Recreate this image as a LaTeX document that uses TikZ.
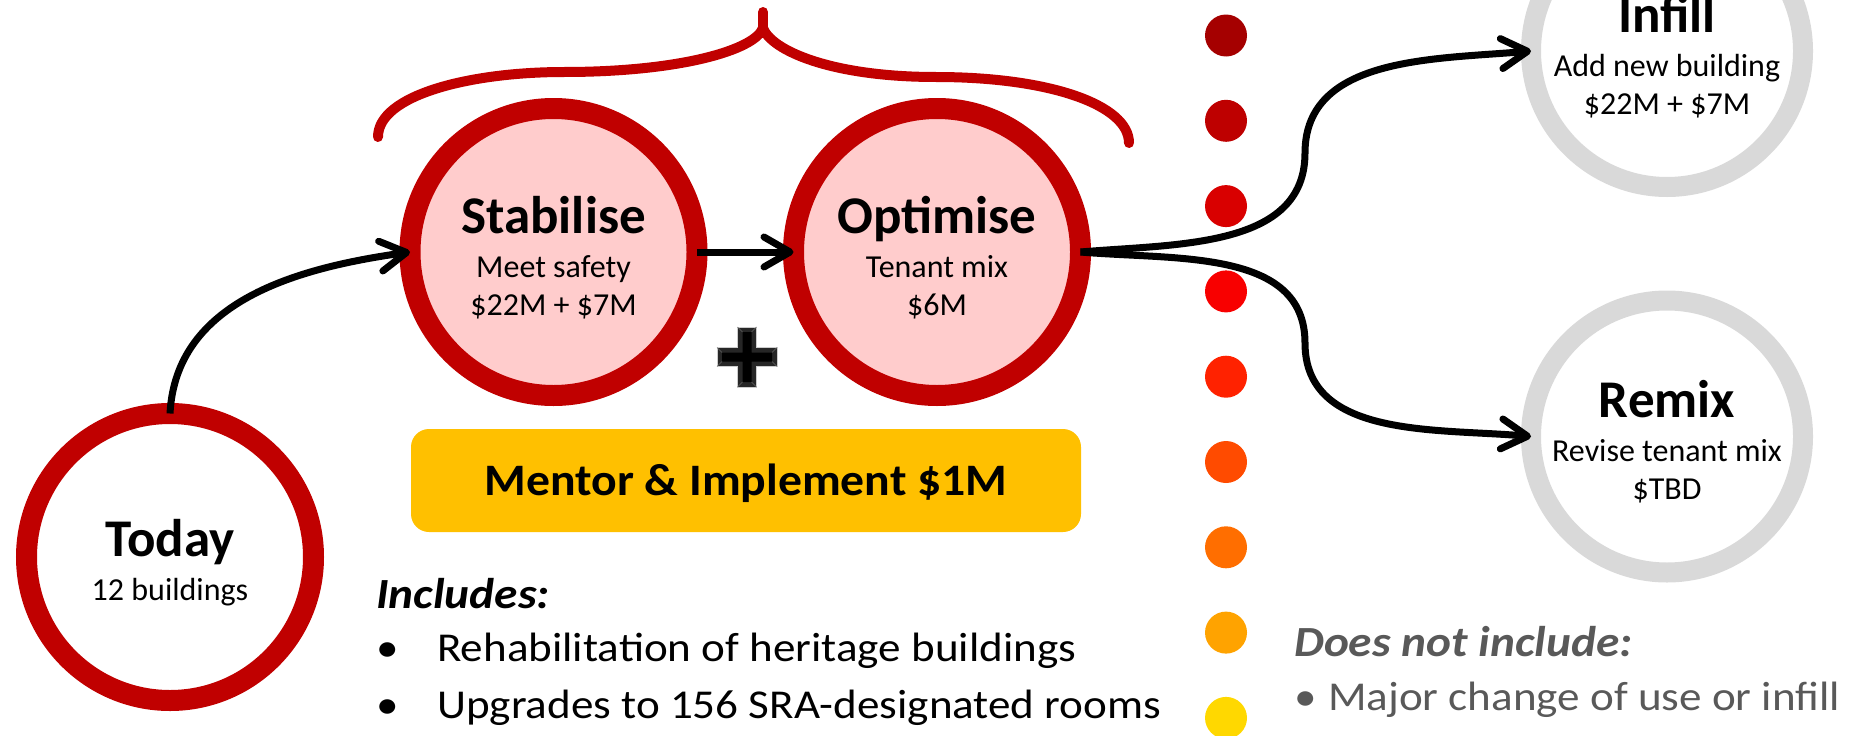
\documentclass[tikz,border=0pt]{standalone}
\usepackage{fontspec}
\setmainfont{Carlito}
\newfontfamily\listfont{Carlito}[FakeStretch=1.1]
\newfontfamily\mentorfont{Carlito}[FakeStretch=1.06]
\usepackage{tikz}
\usetikzlibrary{arrows.meta, positioning}
\definecolor{ringred}{HTML}{C00000}
\definecolor{stagepink}{HTML}{FFCCCC}
\definecolor{ringgray}{HTML}{D9D9D9}
\definecolor{mentorgold}{HTML}{FFC000}
\definecolor{notegray}{HTML}{595959}
\tikzstyle{stage} = [circle, minimum size=287pt, inner sep=0pt, outer sep=0pt, line width=21pt, draw=ringred, fill=stagepink, align=center, font=\fontsize{32}{38}\selectfont]
\tikzstyle{start} = [stage, fill=white]
\tikzstyle{option} = [circle, minimum size=272pt, inner sep=0pt, outer sep=0pt, line width=20pt, draw=ringgray, fill=white, align=center, font=\fontsize{32}{38}\selectfont]
\tikzstyle{mentorbox} = [rectangle, rounded corners=18pt, minimum width=670pt, minimum height=103pt, fill=mentorgold, text height=29pt, text depth=0pt, font=\fontsize{45}{54}\mentorfont\bfseries]
\tikzstyle{arrow} = [line width=7pt, -{Straight Barb[length=26pt, width=30pt, round]}]
\tikzstyle{brace} = [line width=10pt, draw=ringred, line cap=round, line join=round]
\tikzstyle{listhead} = [anchor=base west, inner sep=0pt, font=\fontsize{43}{50}\listfont\bfseries\itshape]
\tikzstyle{listtext} = [anchor=base west, inner sep=0pt, font=\fontsize{41}{49}\listfont]
\newcommand{\stagetitle}[1]{{\fontsize{53}{53}\selectfont\bfseries\rule{0pt}{48pt}#1}\\[6pt]}

\begin{document}
\begin{tikzpicture}[x=1pt, y=-1pt, node distance=383.5pt]

			\useasboundingbox (0,0) rectangle (1866,736);

			\node (today) [start] at (170,557) {\stagetitle{Today}12 buildings};
			\node (stabilise) [stage, right of=today, yshift=305pt] {\stagetitle{Stabilise}Meet safety\\ \$22M + \$7M};
			\node (optimise) [stage, right of=stabilise] {\stagetitle{Optimise}Tenant mix\\ \$6M};
			\node (infill) [option] at (1667,51) {\stagetitle{Infill}Add new building\\ \$22M + \$7M};
			\node (remix) [option, below of=infill, yshift=-2pt] {\stagetitle{Remix}Revise tenant mix\\ \$TBD};

			\node (mentor) [mentorbox] at (746,480.5) {Mentor \& Implement \$1M};

			\foreach \dotcolor [count=\i from 0] in {A50000,BE0000,D90000,F80000,FF2200,FF4B00,FF6E00,FFA300,FFD800}{
				\definecolor{dotfill}{HTML}{\dotcolor}
				\fill [dotfill] (1226,{35.5+85.3*\i}) circle [radius=21];
			}

			\draw [brace] (378,137) .. controls (378,95) and (470,72) .. (564,72)
									.. controls (680,72) and (755,50) .. (763,28)
									.. controls (771,50) and (830,77) .. (936,77)
									.. controls (1050,77) and (1129,105) .. (1129,143);
			\draw [brace] (763,28) -- (763,12);

			\begin{scope}[shift={(747,357)}]
				\fill [black!85, draw=gray!40, line width=0.8pt] (-9.5,-30) -- (9.5,-30) -- (9.5,-9.5) -- (30,-9.5) -- (30,9.5) -- (9.5,9.5)
					-- (9.5,30) -- (-9.5,30) -- (-9.5,9.5) -- (-30,9.5) -- (-30,-9.5) -- (-9.5,-9.5) -- cycle;
				\fill [black] (-4.5,-25) -- (4.5,-25) -- (4.5,-4.5) -- (25,-4.5) -- (25,4.5) -- (4.5,4.5)
					-- (4.5,25) -- (-4.5,25) -- (-4.5,4.5) -- (-25,4.5) -- (-25,-4.5) -- (-4.5,-4.5) -- cycle;
				\draw [black!60, line width=0.6pt] (-9.5,-30) -- (-4.5,-25) (9.5,-30) -- (4.5,-25) (30,-9.5) -- (25,-4.5) (30,9.5) -- (25,4.5)
					(9.5,30) -- (4.5,25) (-9.5,30) -- (-4.5,25) (-30,9.5) -- (-25,4.5) (-30,-9.5) -- (-25,-4.5);
			\end{scope}

			\coordinate (upbend) at (1305,153);
			\coordinate (downbend) at (1305,343);

			\draw [arrow] (today.north) to[out=87, in=188] (stabilise.west);
			\draw [arrow] (stabilise.east) -- (optimise.west);
			\draw [arrow] (optimise.east) to[out=5, in=-90] (upbend) to[out=90, in=185] (infill.west);
			\draw [arrow] (optimise.east) to[out=-5, in=90] (downbend) to[out=-90, in=175] (remix.west);

			\node (includes) [listhead] at (376,608) {Includes:};
			\node (rehab) [listtext] at (376,661) {\makebox[61pt][l]{•}Rehabilitation of heritage buildings};
			\node (upgrades) [listtext] at (376,718) {\makebox[61pt][l]{•}Upgrades to 156 SRA-designated rooms};

			\node (excludes) [listhead, text=notegray] at (1294,656) {Does not include:};
			\node (major) [listtext, text=notegray] at (1294,710) {\makebox[34pt][l]{•}Major change of use or infill};

\end{tikzpicture}
\end{document}
